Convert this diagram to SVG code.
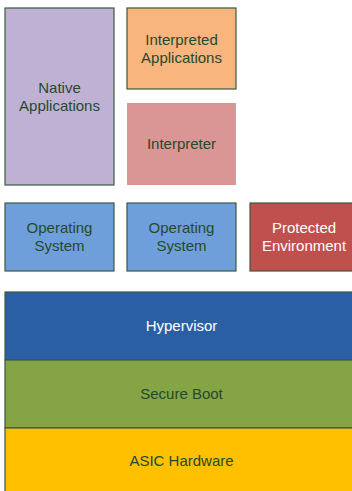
<svg xmlns="http://www.w3.org/2000/svg" width="352" height="491" viewBox="0 0 352 491">
<style>
  .b { stroke: #3a5a40; stroke-width: 1.2; }
  .t { font-family: "Liberation Sans", Arial, sans-serif; font-size: 15px; fill: #26492c; text-anchor: middle; }
  .w { fill: #ffffff; }
</style>
<rect width="352" height="491" fill="#ffffff"/>
<g id="native">
  <rect class="b" x="5" y="8" width="109" height="177" fill="#bfb1d4"/>
  <text class="t" x="59.5" y="93">Native</text>
  <text class="t" x="59.5" y="111">Applications</text>
</g>
<g id="interpreted">
  <rect class="b" x="127" y="8" width="109" height="81" fill="#f9b57e"/>
  <text class="t" x="181.5" y="45">Interpreted</text>
  <text class="t" x="181.5" y="63">Applications</text>
</g>
<g id="interpreter">
  <rect x="127" y="103" width="109" height="82" fill="#d99694"/>
  <text class="t" x="181.5" y="149">Interpreter</text>
</g>
<g id="os1">
  <rect class="b" x="5" y="203" width="109" height="68" fill="#6f9fdb"/>
  <text class="t" x="59.5" y="233">Operating</text>
  <text class="t" x="59.5" y="251">System</text>
</g>
<g id="os2">
  <rect class="b" x="127" y="203" width="109" height="68" fill="#6f9fdb"/>
  <text class="t" x="181.5" y="233">Operating</text>
  <text class="t" x="181.5" y="251">System</text>
</g>
<g id="protected">
  <rect class="b" x="250" y="203" width="104" height="68" fill="#c0504d"/>
  <text class="t w" x="304" y="233">Protected</text>
  <text class="t w" x="304" y="251">Environment</text>
</g>
<g id="hypervisor">
  <rect class="b" x="5" y="292" width="349" height="68" fill="#2a5fa6"/>
  <text class="t w" x="181.5" y="331">Hypervisor</text>
</g>
<g id="secureboot">
  <rect class="b" x="5" y="360" width="349" height="68" fill="#84a446"/>
  <text class="t" x="181.5" y="399">Secure Boot</text>
</g>
<g id="asic">
  <rect class="b" x="5" y="428" width="349" height="66" fill="#ffc000"/>
  <text class="t" x="181.5" y="466">ASIC Hardware</text>
</g>
<g id="connectors"></g>
</svg>
